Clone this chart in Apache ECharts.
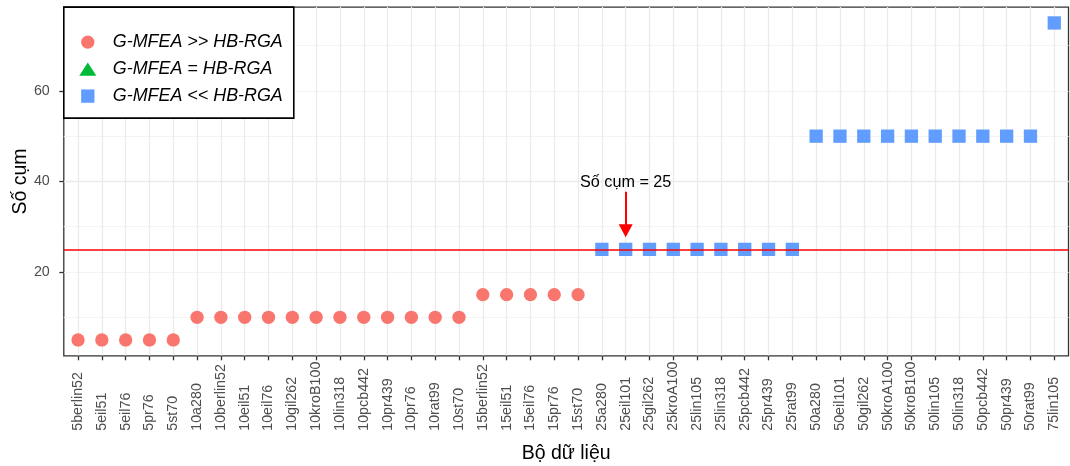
<!DOCTYPE html>
<html><head><meta charset="utf-8">
<script src="https://cdn.jsdelivr.net/npm/echarts@6/dist/echarts.min.js"></script>
<style>html,body{margin:0;padding:0;background:#fff}#c{width:1070px;height:466px}</style>
</head><body><div id="c"></div>
<script>
// ---- data ----
const categories = ['5berlin52','5eil51','5eil76','5pr76','5st70',
  '10a280','10berlin52','10eil51','10eil76','10gil262','10kroB100','10lin318','10pcb442','10pr439','10pr76','10rat99','10st70',
  '15berlin52','15eil51','15eil76','15pr76','15st70',
  '25a280','25eil101','25gil262','25kroA100','25lin105','25lin318','25pcb442','25pr439','25rat99',
  '50a280','50eil101','50gil262','50kroA100','50kroB100','50lin105','50lin318','50pcb442','50pr439','50rat99',
  '75lin105'];
const clusterCounts = [5,5,5,5,5,
  10,10,10,10,10,10,10,10,10,10,10,10,
  15,15,15,15,15,
  25,25,25,25,25,25,25,25,25,
  50,50,50,50,50,50,50,50,50,50,
  75];
const seriesNames = ['G-MFEA >> HB-RGA','G-MFEA = HB-RGA','G-MFEA << HB-RGA'];
const comparison = ['>>','>>','>>','>>','>>',
  '>>','>>','>>','>>','>>','>>','>>','>>','>>','>>','>>','>>',
  '>>','>>','>>','>>','>>',
  '<<','<<','<<','<<','<<','<<','<<','<<','<<',
  '<<','<<','<<','<<','<<','<<','<<','<<','<<','<<',
  '<<'];
const groupKeys = ['>>','=','<<'];
const yTickValues = [20, 40, 60];
const refValue = 25;
const annotationCategory = '25eil101';
const annotationText = 'Số cụm = 25';
const annotationTextY = 39.65;
const arrowStartY = 37.7;
const arrowEndY = 29.1;

// ---- layout ----
const FONT = 'Liberation Sans, Arial, sans-serif';
const panelL = 63.8, panelR = 1068.5, panelT = 7.1, panelB = 355.8;
const n = categories.length, pad = 0.6;
const band = (panelR - panelL) / (n + 2 * pad);
const innerL = panelL + (pad - 0.5) * band;
const innerR = panelR - (pad - 0.5) * band;
const dMin = Math.min(...clusterCounts), dMax = Math.max(...clusterCounts);
const yMin = dMin - 0.05 * (dMax - dMin), yMax = dMax + 0.05 * (dMax - dMin);

const colors = ['#F8766D', '#00BA38', '#619CFF'];
const symbols = ['circle', 'triangle', 'rect'];
const legendIcons = ['circle', 'path://M0,13L8.35,0L16.7,13Z', 'path://M0,0L10,0L10,10L0,10Z'];

function groupData(key) {
  const out = [];
  categories.forEach((c, i) => { if (comparison[i] === key) out.push([c, clusterCounts[i]]); });
  return out;
}

const chart = echarts.init(document.getElementById('c'), null, {renderer: 'canvas'});
const pointSeries = groupKeys.map((k, gi) => ({
  name: seriesNames[gi], type: 'scatter', xAxisIndex: 1, yAxisIndex: 2,
  symbol: symbols[gi], symbolSize: 13.3,
  itemStyle: {color: colors[gi], opacity: 1},
  data: groupData(k)
}));
pointSeries[2].markLine = {
  silent: true, symbol: ['none', 'triangle'], symbolSize: [14, 13],
  lineStyle: {color: '#FF0000', width: 2, type: 'solid'},
  label: {show: false},
  data: [[{coord: [annotationCategory, arrowStartY]}, {coord: [annotationCategory, arrowEndY]}]]
};
pointSeries[2].markPoint = {
  silent: true, symbol: 'circle', symbolSize: 1,
  itemStyle: {color: 'rgba(0,0,0,0)'},
  label: {show: true, position: 'inside', formatter: annotationText, fontSize: 16.2, color: '#000', fontFamily: FONT},
  data: [{coord: [annotationCategory, annotationTextY]}]
};

const option = {
  animation: false,
  backgroundColor: '#fff',
  textStyle: {fontFamily: FONT},
  grid: [
    {left: panelL, top: panelT, width: panelR - panelL, height: panelB - panelT,
     show: true, borderColor: '#333333', borderWidth: 1.3, backgroundColor: '#fff', outerBoundsMode: 'none'},
    {left: innerL, top: panelT, width: innerR - innerL, height: panelB - panelT, outerBoundsMode: 'none'}
  ],
  xAxis: [
    {type: 'value', gridIndex: 0, position: 'bottom', min: 1 - pad, max: n + pad, splitNumber: n,
     axisLine: {show: false}, axisTick: {show: false}, axisLabel: {show: false},
     splitLine: {show: true, showMinLine: false, showMaxLine: false, lineStyle: {color: '#EBEBEB', width: 1.3}}},
    {type: 'category', gridIndex: 1, position: 'bottom', data: categories, boundaryGap: true,
     axisLine: {show: false},
     axisTick: {show: true, alignWithLabel: true, interval: 0, length: 4.5, lineStyle: {color: '#333333', width: 1.3}},
     splitLine: {show: false},
     axisLabel: {interval: 0, rotate: 90, align: 'left', verticalAlign: 'middle', margin: 75,
                 fontSize: 14.3, color: '#4D4D4D', fontFamily: FONT},
     name: 'Bộ dữ liệu', nameLocation: 'middle', nameGap: 88,
     nameTextStyle: {fontSize: 19.5, color: '#000', fontFamily: FONT}}
  ],
  yAxis: [
    {type: 'value', gridIndex: 0, position: 'left', min: yMin, max: yMax, splitNumber: 8,
     axisLine: {show: false}, axisTick: {show: false}, axisLabel: {show: false},
     splitLine: {show: true, showMinLine: false, showMaxLine: false, lineStyle: {color: '#F4F4F4', width: 1}}},
    {type: 'value', gridIndex: 0, position: 'left', min: yMin, max: yMax, splitNumber: 4,
     axisLine: {show: false},
     axisTick: {show: true, customValues: yTickValues, length: 4.5, lineStyle: {color: '#333333', width: 1.3}},
     axisLabel: {customValues: yTickValues, margin: 14, fontSize: 14.3, color: '#4D4D4D', fontFamily: FONT},
     splitLine: {show: true, showMinLine: false, showMaxLine: false, lineStyle: {color: '#EBEBEB', width: 1.3}},
     name: 'Số cụm', nameLocation: 'middle', nameGap: 33, nameMoveOverlap: false,
     nameTextStyle: {fontSize: 19.5, color: '#000', fontFamily: FONT}},
    {type: 'value', gridIndex: 1, position: 'left', min: yMin, max: yMax, show: false}
  ],
  legend: {
    data: seriesNames.map((nm, i) => ({name: nm, icon: legendIcons[i]})),
    left: panelL, top: panelT, orient: 'vertical',
    itemWidth: 17, itemHeight: 13.3, itemGap: 9,
    padding: [26, 11, 13, 15.5],
    borderColor: '#000', borderWidth: 1.6, backgroundColor: '#fff',
    selectedMode: false,
    textStyle: {fontSize: 17.9, fontStyle: 'italic', color: '#000', lineHeight: 18, fontFamily: FONT,
                padding: [0, 0, 0, 11.5]}
  },
  series: [
    {type: 'line', xAxisIndex: 0, yAxisIndex: 1, data: [], silent: true,
     markLine: {silent: true, symbol: ['none', 'none'], label: {show: false},
                lineStyle: {color: '#FF0000', width: 1.5, type: 'solid'},
                data: [{yAxis: refValue}]}}
  ].concat(pointSeries)
};
chart.setOption(option);
</script></body></html>
